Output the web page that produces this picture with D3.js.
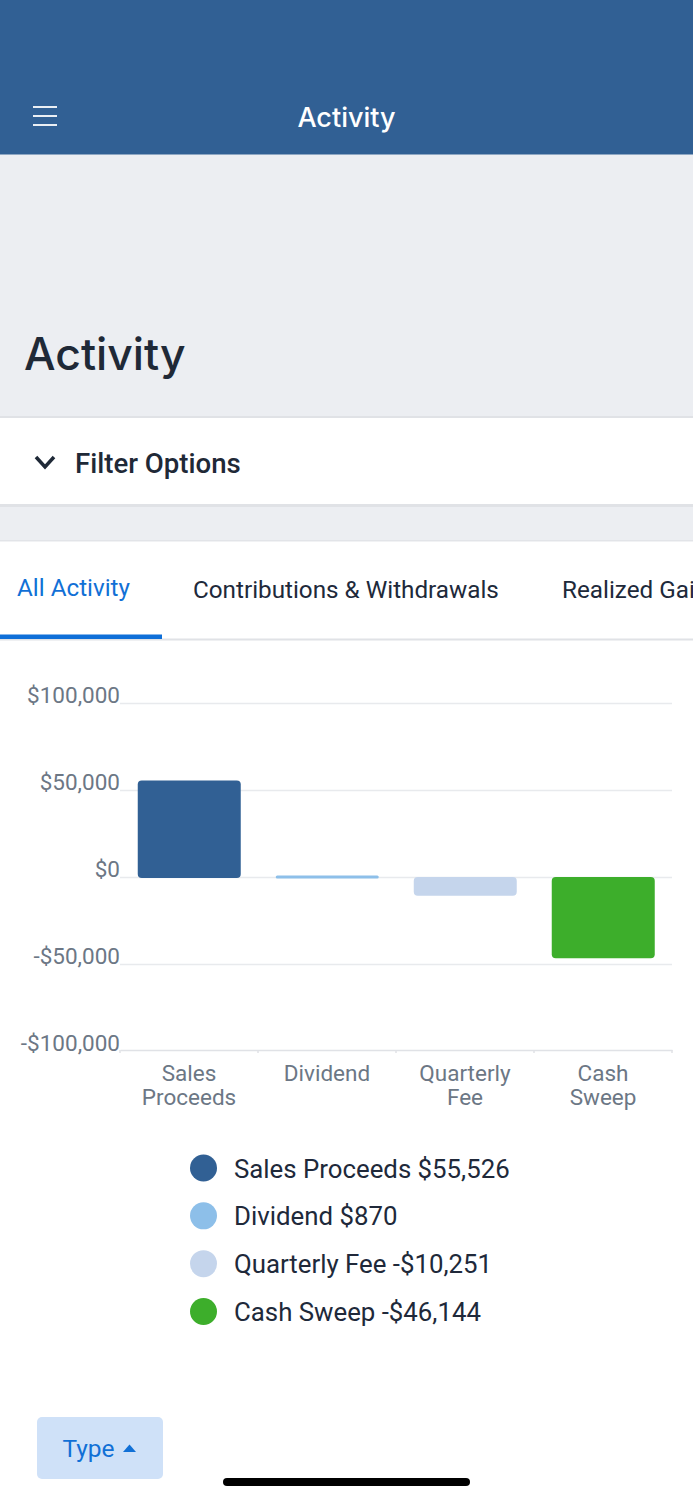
<!DOCTYPE html>
<html>
<head>
<meta charset="utf-8">
<title>Activity</title>
<script src="https://cdnjs.cloudflare.com/ajax/libs/d3/7.8.5/d3.min.js"></script>
<style>
  html, body { margin: 0; padding: 0; background: #fff; }
  svg { display: block; }
  text { font-family: Roboto, sans-serif; }
  .ios { font-family: Inter, sans-serif; }
  .grid line { stroke: #e8eaed; stroke-width: 1.6; }
  .grid path { display: none; }
  .ticks text { fill: #6c7785; font-size: 22.5px; }
  .cats text { fill: #6c7785; font-size: 22.5px; }
  .legend text { fill: #20293a; font-size: 25.8px; }
</style>
</head>
<body>
<script>
var categories = ["Sales Proceeds", "Dividend", "Quarterly Fee", "Cash Sweep"];
var amounts = [55526, 870, -10251, -46144];
var colours = ["#316094", "#8dbfe9", "#c5d5ec", "#3dae2b"];
var yTicks = [100000, 50000, 0, -50000, -100000];
var tabs = ["All Activity", "Contributions & Withdrawals", "Realized Gains"];

var svg = d3.select("body").append("svg").attr("width", 693).attr("height", 1500);

// page chrome
svg.append("rect").attr("width", 693).attr("height", 1500).attr("fill", "#eceef2");
svg.append("rect").attr("width", 693).attr("height", 154.5).attr("fill", "#316094");

svg.selectAll(".burger").data([107, 116, 125]).enter().append("line")
  .attr("x1", 33).attr("x2", 57).attr("y1", function(d) { return d; }).attr("y2", function(d) { return d; })
  .attr("stroke", "#fff").attr("stroke-width", 1.8);

svg.append("text").attr("class", "ios").attr("x", 346.5).attr("y", 127).attr("text-anchor", "middle")
  .attr("fill", "#fff").attr("font-size", 27).attr("font-weight", 500).text("Activity");

svg.append("text").attr("class", "ios").attr("x", 24).attr("y", 370)
  .attr("fill", "#1f2937").attr("font-size", 44.5).attr("font-weight", 500).text("Activity");

// filter panel
svg.append("rect").attr("y", 416).attr("width", 693).attr("height", 91).attr("fill", "#e0e2e6");
svg.append("rect").attr("y", 418).attr("width", 693).attr("height", 86).attr("fill", "#fff");
svg.append("path").attr("d", "M36 457 L45 467 L54 457").attr("fill", "none")
  .attr("stroke", "#1f2937").attr("stroke-width", 3.5);
svg.append("text").attr("x", 75).attr("y", 473).attr("fill", "#1f2937")
  .attr("font-size", 27.6).attr("font-weight", 500).text("Filter Options");

// content panel
svg.append("rect").attr("y", 540).attr("width", 693).attr("height", 960).attr("fill", "#e2e4e8");
svg.append("rect").attr("y", 541.5).attr("width", 693).attr("height", 958.5).attr("fill", "#fff");

svg.selectAll(".tab").data(tabs).enter().append("text")
  .attr("x", function(d, i) { return [17, 193, 562][i]; })
  .attr("y", function(d, i) { return i == 0 ? 596 : 598; })
  .attr("font-size", 24.25)
  .attr("fill", function(d, i) { return i == 0 ? "#1170d6" : "#20293a"; })
  .text(function(d) { return d; });
svg.append("rect").attr("y", 638.5).attr("width", 693).attr("height", 2).attr("fill", "#e0e2e6");
svg.append("rect").attr("y", 634.5).attr("width", 162).attr("height", 4.5).attr("fill", "#0f6fd8");

// chart
var x = d3.scaleBand().domain(categories).range([120, 672]).paddingInner(0.25).paddingOuter(0.125);
var y = d3.scaleLinear().domain([-100000, 100000]).range([1051, 703]);

function money(d) {
  return (d < 0 ? "-$" : "$") + d3.format(",")(Math.abs(d));
}

// the bottom tick is drawn by the category axis line
var grid = svg.append("g").attr("class", "grid")
  .attr("transform", "translate(120,0)")
  .call(d3.axisLeft(y).tickValues(yTicks.slice(0, -1)).tickSize(-552).tickFormat(""));

var ticks = svg.append("g").attr("class", "ticks")
  .attr("transform", "translate(120,0)")
  .call(d3.axisLeft(y).tickValues(yTicks).tickSize(0).tickPadding(0).tickFormat(money));
ticks.select("path").remove();
ticks.selectAll("text").attr("dy", "-0.03em");

var cats = svg.append("g").attr("class", "cats")
  .attr("transform", "translate(0,1050)")
  .call(d3.axisBottom(x).tickSize(0).tickFormat(""));
cats.select("path").attr("stroke", "#e0e2e6").attr("stroke-width", 1.6);

// tick marks sit between the bands
svg.selectAll(".band-tick").data(d3.range(5)).enter().append("line")
  .attr("x1", function(d) { return 120 + d * x.step(); })
  .attr("x2", function(d) { return 120 + d * x.step(); })
  .attr("y1", 1050).attr("y2", 1053)
  .attr("stroke", "#e0e2e6").attr("stroke-width", 1.5);

cats.selectAll(".tick text").remove();
cats.selectAll(".tick").each(function(d) {
  d3.select(this).selectAll("text").data(d.split(" ")).enter().append("text")
    .attr("text-anchor", "middle")
    .attr("y", function(w, i) { return 31 + i * 24; })
    .text(function(w) { return w; });
});

function barPath(d, i) {
  var left = x(categories[i]) + 0.5, w = x.bandwidth() - 0.5;
  var top = Math.min(y(d), y(0)), h = Math.max(Math.abs(y(d) - y(0)), 2) + 1;
  var r = Math.min(4, h / 2);
  return "M" + (left + r) + " " + top + "h" + (w - 2 * r) + "q" + r + " 0 " + r + " " + r +
    "v" + (h - 2 * r) + "q0 " + r + " " + -r + " " + r + "h" + -(w - 2 * r) +
    "q" + -r + " 0 " + -r + " " + -r + "v" + -(h - 2 * r) + "q0 " + -r + " " + r + " " + -r + "z";
}

svg.selectAll(".bar").data(amounts).enter().append("path")
  .attr("class", "bar")
  .attr("d", barPath)
  .attr("fill", function(d, i) { return colours[i]; });

// legend
var legendY = d3.scalePoint().domain(categories).range([1168, 1311.5]);
var legend = svg.selectAll(".legend").data(categories).enter().append("g")
  .attr("class", "legend")
  .attr("transform", function(d) { return "translate(0," + legendY(d) + ")"; });
legend.append("circle").attr("cx", 203.5).attr("r", 13.5)
  .attr("fill", function(d, i) { return colours[i]; });
legend.append("text").attr("x", 234).attr("y", 9.5)
  .text(function(d, i) { return d + " " + money(amounts[i]); });

// type button and home bar
svg.append("rect").attr("x", 37).attr("y", 1417).attr("width", 126).attr("height", 62).attr("rx", 5)
  .attr("fill", "#cfe1f8");
svg.append("text").attr("x", 62.5).attr("y", 1457).attr("font-size", 24.5).attr("fill", "#1170d6").text("Type");
svg.append("path").attr("d", "M123 1452 L129.5 1444.5 L136 1452 Z").attr("fill", "#1170d6");
svg.append("rect").attr("x", 223).attr("y", 1478).attr("width", 247).attr("height", 8).attr("rx", 4).attr("fill", "#000");
</script>
</body>
</html>
